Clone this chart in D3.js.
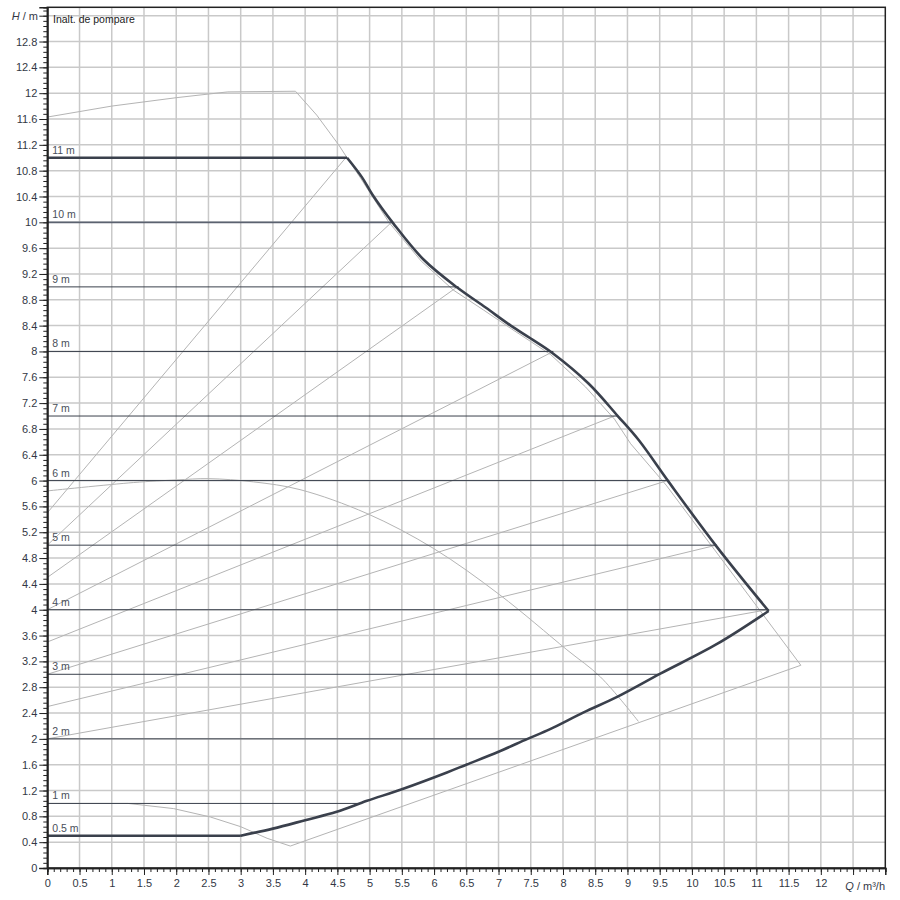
<!DOCTYPE html>
<html>
<head>
<meta charset="utf-8">
<script src="https://cdn.jsdelivr.net/npm/d3@7"></script>
<style>
  body { margin: 0; background: #fff; }
  svg text { font-family: "Liberation Sans", Arial, sans-serif; }
</style>
</head>
<body>
<div id="chart"></div>
<script>
// ---- data (Q in m3/h, H in m) ----
// limit curve, split in its four pieces: top flat, falling side, rising lower side, bottom flat
var maxTop     = [[0,11],[4.65,11]];
var maxFalling = [[4.65,11],[4.88,10.7],[5.05,10.42],[5.37,9.98],[5.84,9.42],[6.36,8.99],
  [6.8,8.68],[7.19,8.4],[7.5,8.2],[7.83,7.98],[8.4,7.5],[8.85,7.0],[9.18,6.62],[9.64,5.98],
  [10.39,4.97],[11.19,3.98]];
var maxRising  = [[11.19,3.98],[10.39,3.47],[9.51,3.01],[8.84,2.65],[8.32,2.41],[7.8,2.15],
  [7.45,2.0],[7,1.8],[6.5,1.6],[6.2,1.48],[5.5,1.22],[4.96,1.04],[4.49,0.87],[4,0.74],
  [3.5,0.61],[3,0.5]];
var maxBottom  = [[3,0.5],[0,0.5]];

var outerLimit = [[0,11.63],[1,11.8],[2,11.93],[2.8,12.02],[3.85,12.03],[4.18,11.66],[4.52,11.2],
  [4.65,11.0],[4.85,10.7],[5.3,10.0],[5.8,9.4],[6.3,8.95],[6.77,8.64],[7.2,8.35],[7.81,7.95],
  [8.35,7.45],[8.8,6.95],[9.05,6.57],[9.6,5.93],[10.35,4.93],[11.69,3.14],[3.77,0.34],
  [3.41,0.46],[3.0,0.64],[2.53,0.79],[1.96,0.92],[1.25,1.0],[0,1.0]];

var domeCurve = [[0,5.84],[1.34,5.97],[2,6.01],[2.5,6.03],[3.2,5.98],[3.92,5.86],[4.96,5.49],
  [5.99,4.95],[7.02,4.23],[8.06,3.38],[8.58,2.96],[9.17,2.27]];

// constant pressure set points and where each line meets the limit curve
var setHeads  = [0.5, 1, 2, 3, 4, 5, 6, 7, 8, 9, 10, 11];
var setLabels = ["0.5 m","1 m","2 m","3 m","4 m","5 m","6 m","7 m","8 m","9 m","10 m","11 m"];
var setEndQ   = [3.0, 4.85, 7.45, 9.5, 11.19, 10.39, 9.64, 8.85, 7.85, 6.38, 5.36, 4.65];

// variable pressure lines: from H/2 at Q=0 up to the set point on the limit
var varHeads = [4, 5, 6, 7, 8, 9, 10, 11];
var varEndQ  = [11.17, 10.38, 9.62, 8.8, 7.85, 6.36, 5.34, 4.63];

var xMajor = d3.range(0, 12.51, 0.5);
var yMajor = d3.range(0, 13.21, 0.4);
var xLabels = ["0","0.5","1","1.5","2","2.5","3","3.5","4","4.5","5","5.5","6","6.5","7","7.5",
  "8","8.5","9","9.5","10","10.5","11","11.5","12"];
var yLabels = ["0","0.4","0.8","1.2","1.6","2","2.4","2.8","3.2","3.6","4","4.4","4.8","5.2","5.6",
  "6","6.4","6.8","7.2","7.6","8","8.4","8.8","9.2","9.6","10","10.4","10.8","11.2","11.6","12",
  "12.4","12.8"];

var width = 900, height = 900;
var svg = d3.select("#chart").append("svg").attr("width", width).attr("height", height);

var x = d3.scaleLinear().domain([0, 13]).range([47.3, 885.3]);
var y = d3.scaleLinear().domain([0, 13.33]).range([868, 7.3]);

var dark = "#3a404c", light = "#b4b4b4", gridC = "#c9c9c9", textC = "#333845";

// grid
svg.append("g").selectAll("line").data(xMajor.slice(1)).enter().append("line")
  .attr("x1", function(d) { return x(d); }).attr("x2", function(d) { return x(d); })
  .attr("y1", y.range()[0]).attr("y2", y.range()[1])
  .attr("stroke", gridC).attr("stroke-width", 1.5);
svg.append("g").selectAll("line").data(yMajor.slice(1)).enter().append("line")
  .attr("x1", x.range()[0]).attr("x2", x.range()[1])
  .attr("y1", function(d) { return y(d); }).attr("y2", function(d) { return y(d); })
  .attr("stroke", gridC).attr("stroke-width", 1.5);

var line = d3.line().x(function(d) { return x(d[0]); }).y(function(d) { return y(d[1]); });
var smooth = d3.line().curve(d3.curveCatmullRom.alpha(0.5))
  .x(function(d) { return x(d[0]); }).y(function(d) { return y(d[1]); });

// light gray helper curves
svg.append("path").datum(outerLimit).attr("d", line)
  .attr("fill", "none").attr("stroke", light).attr("stroke-width", 1);
svg.append("path").datum(domeCurve).attr("d", smooth)
  .attr("fill", "none").attr("stroke", light).attr("stroke-width", 1);
svg.append("g").selectAll("line").data(varHeads).enter().append("line")
  .attr("x1", x(0)).attr("y1", function(d) { return y(d / 2); })
  .attr("x2", function(d, i) { return x(varEndQ[i]); }).attr("y2", function(d) { return y(d); })
  .attr("stroke", light).attr("stroke-width", 1);

// constant pressure lines
svg.append("g").selectAll("line").data(setHeads).enter().append("line")
  .attr("x1", x(0)).attr("x2", function(d, i) { return x(setEndQ[i]); })
  .attr("y1", function(d) { return y(d); }).attr("y2", function(d) { return y(d); })
  .attr("stroke", function(d) { return d === 10 ? "#5b6270" : dark; })
  .attr("stroke-width", function(d) { return d === 10 ? 1.8 : 1; });
svg.append("g").selectAll("text").data(setHeads).enter().append("text")
  .attr("x", x(0) + 5).attr("y", function(d) { return y(d) - 4; })
  .attr("font-size", 10.5).attr("fill", "#4a4f5a")
  .text(function(d, i) { return setLabels[i]; });

// limit curve
var limitG = svg.append("g").attr("fill", "none").attr("stroke", dark)
  .attr("stroke-width", 2.6).attr("stroke-linejoin", "round");
limitG.append("path").datum(maxTop).attr("d", line);
limitG.append("path").datum(maxFalling).attr("d", smooth);
limitG.append("path").datum(maxRising).attr("d", smooth);
limitG.append("path").datum(maxBottom).attr("d", line);

// frame
svg.append("rect").attr("x", x(0)).attr("y", y(13.33))
  .attr("width", x(13) - x(0)).attr("height", y(0) - y(13.33))
  .attr("fill", "none").attr("stroke", "#222").attr("stroke-width", 1.5);

// axes
svg.append("g").attr("transform", "translate(0," + y(0) + ")")
  .call(d3.axisBottom(x).tickValues(xMajor).tickSize(7).tickPadding(4)
    .tickFormat(function(d, i) { return xLabels[i] || ""; }));
svg.append("g").attr("transform", "translate(0," + y(0) + ")")
  .call(d3.axisBottom(x).tickValues(d3.range(0, 13.01, 0.1)).tickSize(4).tickFormat(""));
svg.append("g").attr("transform", "translate(" + x(0) + ",0)")
  .call(d3.axisLeft(y).tickValues(yMajor).tickSize(8).tickPadding(2)
    .tickFormat(function(d, i) { return yLabels[i] || ""; }));
svg.append("g").attr("transform", "translate(" + x(0) + ",0)")
  .call(d3.axisLeft(y).tickValues(d3.range(0, 13.3, 0.08)).tickSize(4).tickFormat(""));

svg.selectAll(".domain").attr("stroke", "#222").attr("stroke-width", 1.5);
svg.selectAll(".tick line").attr("stroke", "#222");
svg.selectAll(".tick text").attr("font-size", 11).attr("fill", textC)
  .attr("font-family", "Liberation Sans, Arial, sans-serif");

// axis titles
var ht = svg.append("text").attr("x", 38).attr("y", y(13.2) + 4)
  .attr("text-anchor", "end").attr("font-size", 11).attr("fill", textC);
ht.append("tspan").attr("font-style", "italic").text("H");
ht.append("tspan").text(" / m");
var qt = svg.append("text").attr("x", 885).attr("y", y(0) + 22)
  .attr("text-anchor", "end").attr("font-size", 11).attr("fill", textC);
qt.append("tspan").attr("font-style", "italic").text("Q");
qt.append("tspan").text(" / m³/h");

svg.append("text").attr("x", 53).attr("y", 23).attr("font-size", 10.5)
  .attr("fill", "#222").text("Inalt. de pompare");
</script>
</body>
</html>
